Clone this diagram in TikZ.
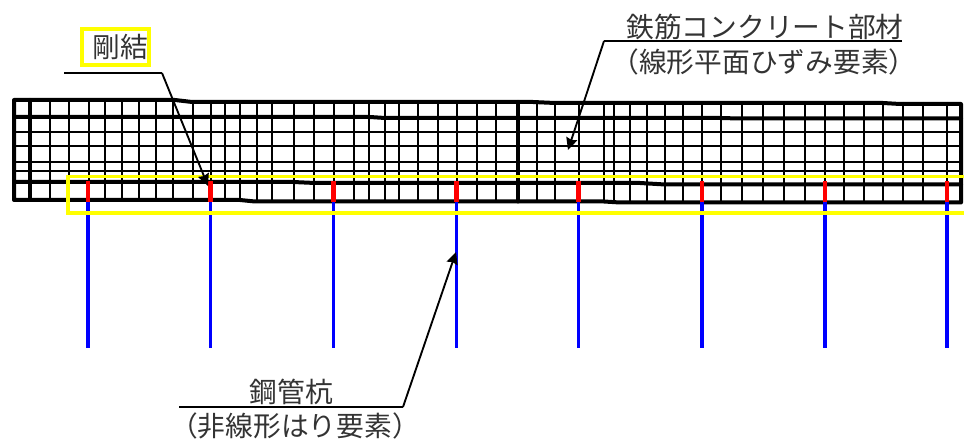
\documentclass[tikz,border=0pt]{standalone}
\usepackage{fontspec}
\setmainfont{Noto Sans CJK JP}
\usetikzlibrary{arrows.meta}
\definecolor{rcyellow}{RGB}{255,255,0}
\tikzset{
	gridthin/.style = {line width=1.3pt},
	gridthick/.style = {line width=3pt, line cap=round, line join=round},
	leader/.style = {line width=1.4pt},
	pointer/.style = {leader, -{Stealth[length=9pt, width=8.5pt, inset=1pt]}},
	label/.style = {inner sep=0pt, font=\fontsize{20.8pt}{20.8pt}\selectfont, text=black!80},
}

\begin{document}
\begin{tikzpicture}[x=0.75pt, y=-0.75pt]
	\useasboundingbox (0,0) rectangle (964,441);

	% thin vertical lines of the mesh
	\foreach \xpos in {50,69,89,105,122,139,156,173,193,211,225,240,257,272,294,314,334,354,369,385,399,418,438,457,477,496,537,555,579,604,614,630,647,665,683,702,721,742,763,784,805,825,844,864,883,903,923,947}
		\draw [gridthin] (\xpos,102) to (\xpos,201);
	% thin horizontal lines of the mesh
	\foreach \ypos in {132,146,162,171}
		\draw [gridthin] (14,\ypos) to (961,\ypos);

	% thick outline
	\draw [gridthick] (14,100) to (175,100) to (192,102) to (533,102) to (555,103) to (883,103) to (900,104) to (961,104) to (961,202.5) to (620,202.5) to (604,201.5) to (255,201.5) to (240,200) to (14,200) to cycle;
	\draw [gridthick] (14,117) to (370,117) to (385,118) to (720,118) to (740,118.5) to (961,118.5);
	\draw [gridthick] (14,182) to (293,182) to (315,183) to (640,183) to (665,184.5) to (961,184.5);
	\draw [gridthick] (30,100) to (30,200);
	\draw [gridthick] (518,102) to (518,201.5);

	% piles
	\foreach \xpos in {88,210.5,333.5,456.5,578.5,702,825,947} {
		\draw [blue, line width=2.7pt] (\xpos,202) to (\xpos,348);
		\draw [red, line width=3.6pt] (\xpos,181) to (\xpos,202);
	}

	% joint zone, runs off the right edge
	\draw [rcyellow, line width=2.8pt] (964,176.5) to (68,176.5) to (68,213) to (964,213);

	\node (joint) [label, draw=rcyellow, line width=2.8pt, minimum width=50pt, minimum height=27pt] at (115.5,47) {\hspace*{7pt}剛結};
	\node (member) [label, anchor=south] at (765,40) {鉄筋コンクリート部材};
	\node (memberb) [label, anchor=north] at (764,48) {（線形平面ひずみ要素）};
	\node (pile) [label, anchor=south] at (291.5,405) {鋼管杭};
	\node (pileb) [label, anchor=north] at (295,412) {（非線形はり要素）};

	\coordinate (jointa) at (64,73);
	\coordinate (jointb) at (162,73);
	\coordinate (jointc) at (208,186);
	\draw [leader] (jointa) to (jointb);
	\draw [pointer] (jointb) to (jointc);

	\coordinate (membera) at (902,41);
	\coordinate (memberc) at (604,41);
	\coordinate (memberd) at (568,150);
	\draw [leader] (membera) to (memberc);
	\draw [pointer] (memberc) to (memberd);

	\coordinate (pilea) at (179,407);
	\coordinate (pilec) at (403,407);
	\coordinate (piled) at (456,252);
	\draw [leader] (pilea) to (pilec);
	\draw [pointer] (pilec) to (piled);
\end{tikzpicture}
\end{document}
